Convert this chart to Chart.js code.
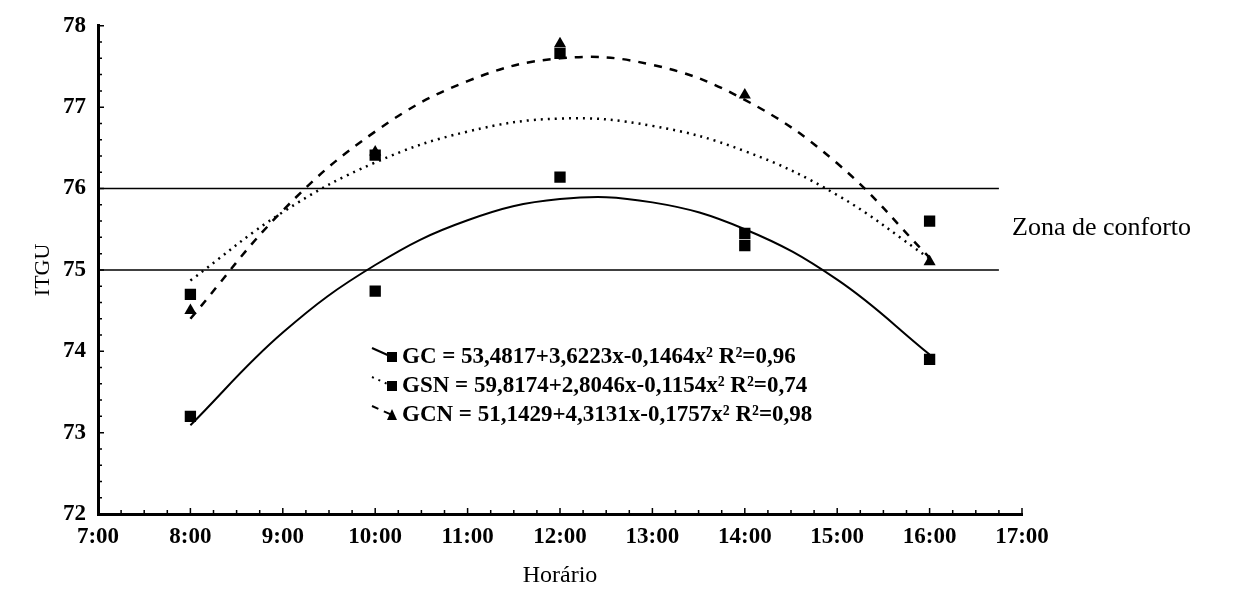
<!DOCTYPE html>
<html lang="pt">
<head>
<meta charset="utf-8">
<title>ITGU x Horário</title>
<script src="https://cdn.jsdelivr.net/npm/chart.js@4.4.1/dist/chart.umd.min.js"></script>
<style>
  html, body { margin: 0; padding: 0; background: #fff; }
  #wrap { position: relative; width: 1250px; height: 592px; }
  #grafico { display: block; }
  #zona {
    position: absolute; left: 1012px; top: 212px;
    font: 26px "Liberation Serif", "DejaVu Serif", serif; color: #000;
    white-space: nowrap;
  }
</style>
</head>
<body>
<div id="wrap">
  <canvas id="grafico" width="1250" height="592"></canvas>
  <div id="zona">Zona de conforto</div>
</div>
<script>
// ===== DADOS =====
// horários das medições (h)
const horas = [8, 10, 12, 14, 16];
// ITGU observado em cada galpão
const gcObs  = [73.2, 74.74, 76.14, 75.45, 73.9];
const gsnObs = [74.7, 76.41, 77.66, 75.3, 75.6];
const gcnObs = [74.5, 76.45, 77.78, 77.15, 75.1];

// curvas ajustadas, lidas hora a hora
const horasCurva = [8, 9, 10, 11, 12, 13, 14, 15, 16];
const gcCurva  = [73.09, 74.23, 75.06, 75.61, 75.87, 75.83, 75.50, 74.88, 73.96];
const gsnCurva = [74.87, 75.71, 76.32, 76.70, 76.86, 76.77, 76.46, 75.92, 75.14];
const gcnCurva = [74.40, 75.73, 76.70, 77.32, 77.60, 77.52, 77.09, 76.31, 75.15];

// limites da zona de conforto (ITGU) e alcance das linhas
const zonaLimites = [75, 76];
const zonaHoras = [7, 16.75];

// eixos
const xMin = 7, xMax = 17;
const yMin = 72, yMax = 78;

// textos da legenda
const legendaTextos = [
  'GC = 53,4817+3,6223x-0,1464x² R²=0,96',
  'GSN = 59,8174+2,8046x-0,1154x² R²=0,74',
  'GCN = 51,1429+4,3131x-0,1757x² R²=0,98'
];

const FONTE = '"Liberation Serif", "DejaVu Serif", serif';

function pares(xs, ys) {
  return xs.map((x, i) => ({ x: x, y: ys[i] }));
}

// ===== TIQUES MENORES NOS EIXOS =====
const tiquesPlugin = {
  id: 'tiques',
  afterDraw(chart) {
    const { ctx, scales: { x, y } } = chart;
    ctx.save();
    ctx.strokeStyle = '#000';
    ctx.lineWidth = 1.5;
    ctx.beginPath();
    for (let i = 0; i <= (xMax - xMin) * 4; i++) {
      const v = xMin + i / 4;
      const px = x.getPixelForValue(v);
      const len = i % 4 === 0 ? 6 : 4;
      ctx.moveTo(px, y.bottom);
      ctx.lineTo(px, y.bottom - len);
    }
    for (let i = 0; i <= (yMax - yMin) * 5; i++) {
      const v = yMin + i / 5;
      const py = y.getPixelForValue(v);
      const len = i % 5 === 0 ? 6 : 4;
      ctx.moveTo(x.left, py);
      ctx.lineTo(x.left + len, py);
    }
    ctx.stroke();
    ctx.restore();
  }
};

// ===== LEGENDA DENTRO DA ÁREA DO GRÁFICO =====
const legendaPlugin = {
  id: 'legendaEq',
  afterDraw(chart) {
    const { ctx } = chart;
    const estilos = [
      { dash: [], marca: 'rect' },
      { dash: [2, 5], marca: 'rect' },
      { dash: [7, 6], marca: 'triangle' }
    ];
    const x0 = 392, y0 = 357, passo = 29;
    ctx.save();
    legendaTextos.forEach((txt, i) => {
      const yy = y0 + i * passo;
      const e = estilos[i];
      ctx.strokeStyle = '#000';
      ctx.lineWidth = 2;
      ctx.setLineDash(e.dash);
      ctx.beginPath();
      ctx.moveTo(x0 - 20, yy - 9);
      ctx.lineTo(x0, yy);
      ctx.stroke();
      ctx.setLineDash([]);
      ctx.fillStyle = '#000';
      if (e.marca === 'rect') {
        ctx.fillRect(x0 - 5, yy - 5, 10, 10);
      } else {
        ctx.beginPath();
        ctx.moveTo(x0, yy - 6);
        ctx.lineTo(x0 + 5, yy + 5);
        ctx.lineTo(x0 - 5, yy + 5);
        ctx.closePath();
        ctx.fill();
      }
      ctx.font = 'bold 23px ' + FONTE;
      ctx.textBaseline = 'middle';
      ctx.textAlign = 'left';
      ctx.fillText(txt, x0 + 10, yy);
    });
    ctx.restore();
  }
};

const curva = (dados, dash, largura) => ({
  type: 'line',
  data: pares(horasCurva, dados),
  borderColor: '#000',
  borderWidth: largura,
  borderDash: dash,
  pointRadius: 0,
  tension: 0.4,
  fill: false
});

const observado = (dados, estilo, raio) => ({
  type: 'scatter',
  data: pares(horas, dados),
  pointStyle: estilo,
  pointRadius: raio,
  backgroundColor: '#000',
  borderColor: '#000',
  borderWidth: 0,
  showLine: false
});

const limite = (valor) => ({
  type: 'line',
  data: pares(zonaHoras, [valor, valor]),
  borderColor: '#000',
  borderWidth: 1.5,
  pointRadius: 0,
  tension: 0
});

document.addEventListener('DOMContentLoaded', function() {
  const ctx = document.getElementById('grafico').getContext('2d');

  new Chart(ctx, {
    data: {
      datasets: [
        ...zonaLimites.map(limite),
        curva(gcCurva, [], 2),
        curva(gsnCurva, [2, 5], 2.5),
        curva(gcnCurva, [8, 8], 2.5),
        observado(gcObs, 'rect', 8),
        observado(gsnObs, 'rect', 8),
        observado(gcnObs, 'triangle', 7)
      ]
    },
    options: {
      responsive: false,
      animation: false,
      layout: { padding: { left: 0, right: 228, top: 22, bottom: 0 } },
      plugins: {
        legend: { display: false },
        tooltip: { enabled: false }
      },
      scales: {
        x: {
          type: 'linear',
          min: xMin,
          max: xMax,
          afterFit: s => { s.height = 78; },
          grid: { display: true, drawOnChartArea: false, drawTicks: false },
          border: { display: true, color: '#000', width: 3 },
          ticks: {
            stepSize: 1,
            padding: 9,
            color: '#000',
            font: { family: FONTE, size: 23, weight: 'bold' },
            callback: v => v + ':00'
          },
          title: {
            display: true,
            text: 'Horário',
            color: '#000',
            font: { family: FONTE, size: 24 },
            padding: { top: 0, bottom: 2 }
          }
        },
        y: {
          min: yMin,
          max: yMax,
          afterFit: s => { s.width = 98; },
          grid: { display: true, drawOnChartArea: false, drawTicks: false },
          border: { display: true, color: '#000', width: 3 },
          ticks: {
            stepSize: 1,
            padding: 12,
            color: '#000',
            font: { family: FONTE, size: 23, weight: 'bold' }
          },
          title: {
            display: true,
            text: 'ITGU',
            color: '#000',
            font: { family: FONTE, size: 22 },
            padding: { top: 30, bottom: 0 }
          }
        }
      }
    },
    plugins: [tiquesPlugin, legendaPlugin]
  });
});
</script>
</body>
</html>
